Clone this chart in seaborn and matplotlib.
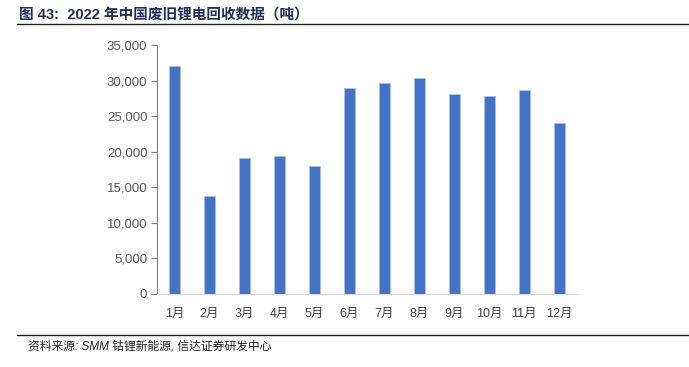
import matplotlib
matplotlib.use("Agg")
import matplotlib.pyplot as plt
import seaborn as sns
import pandas as pd
from matplotlib.ticker import FuncFormatter, MultipleLocator

months = ["1月", "2月", "3月", "4月", "5月", "6月", "7月", "8月", "9月", "10月", "11月", "12月"]
tons = [32050, 13780, 19160, 19350, 17950, 29000, 29700, 30360, 28070, 27790, 28630, 24040]

title = "图 43:  2022 年中国废旧锂电回收数据（吨）"
source = "资料来源: SMM 钴锂新能源, 信达证券研发中心"

sns.set_theme(style="white")
plt.rcParams["font.family"] = ["Liberation Sans", "Noto Sans CJK SC", "DejaVu Sans"]

df = pd.DataFrame({"month": months, "tons": tons})

fig = plt.figure(figsize=(6.89, 3.67), dpi=100)
ax = fig.add_axes([0.228, 0.199, 0.609, 0.678])

sns.barplot(data=df, x="month", y="tons", color="#4472C4", saturation=1,
            width=0.32, ax=ax, edgecolor="#A9C0E8", linewidth=0.6)

ax.set_xlim(-0.5, 11.5)
ax.set_ylim(0, 35000)
ax.yaxis.set_major_locator(MultipleLocator(5000))
ax.yaxis.set_major_formatter(FuncFormatter(lambda v, p: f"{int(v):,}"))
ax.set_xlabel("")
ax.set_ylabel("")

for s in ["top", "right"]:
    ax.spines[s].set_visible(False)
ax.spines["left"].set_color("#7f7f7f")
ax.spines["left"].set_linewidth(0.8)
ax.spines["bottom"].set_color("#d9d9d9")
ax.spines["bottom"].set_linewidth(0.8)

ax.tick_params(axis="y", left=True, length=4, width=0.8, color="#7f7f7f",
               labelsize=9.5, labelcolor="#595959", pad=3)
ax.tick_params(axis="x", bottom=False, labelsize=9, labelcolor="#404040", pad=4)

fig.text(0.028, 0.958, title, fontsize=10.5, fontweight="bold", color="#1F2D5A",
         va="center", ha="left")
fig.add_artist(plt.Line2D([0.025, 1.0], [0.935, 0.935], color="#222222", lw=1.0))
fig.add_artist(plt.Line2D([0.025, 1.0], [0.087, 0.087], color="#222222", lw=1.0))
fig.text(0.04, 0.057, source, fontsize=8.5, style="italic", color="#222222",
         va="center", ha="left")

fig.savefig("out.png", dpi=100)
